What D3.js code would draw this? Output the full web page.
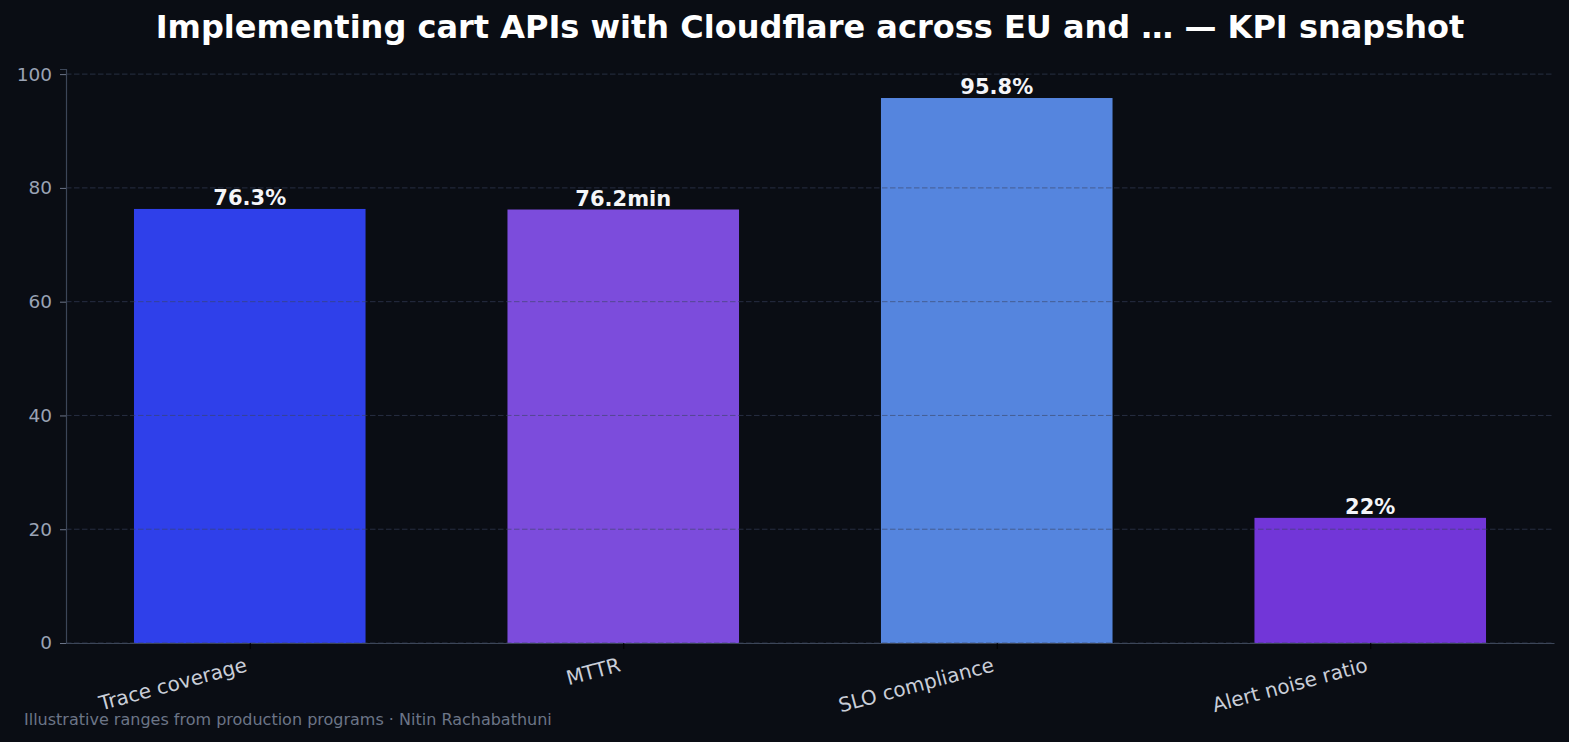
<!DOCTYPE html>
<meta charset="utf-8">
<style>
  body { margin: 0; background: #0a0d14; }
  svg { display: block; font-family: "DejaVu Sans", sans-serif; }
  .title { fill: #ffffff; font-size: 32px; font-weight: bold; text-anchor: middle; }
  .ytick text { fill: #9aa3b5; font-size: 18.5px; }
  .xtick text { fill: #c9ced8; font-size: 20px; }
  .val { fill: #f4f5f8; font-size: 21px; font-weight: bold; text-anchor: middle; }
  .foot { fill: #6c7587; font-size: 16px; }
</style>
<svg width="1569" height="742"></svg>
<script src="https://cdn.jsdelivr.net/npm/d3@7"></script>
<script>

// data
const categories = ["Trace coverage", "MTTR", "SLO compliance", "Alert noise ratio"]
const values = [76.3, 76.2, 95.8, 22]
const valueLabels = ["76.3%", "76.2min", "95.8%", "22%"]
const barColors = ["#2f40ea", "#7c4cdc", "#5585de", "#7236d8"]
const yTicks = [0, 20, 40, 60, 80, 100]

const svg = d3.select("svg")

const margin = {top: 69, right: 15, bottom: 99, left: 66},
      W = 1569, H = 742,
      plotW = W - margin.left - margin.right,
      plotH = H - margin.top - margin.bottom

svg.append("rect").attr("width", W).attr("height", H).attr("fill", "#0a0d14")

const x = d3.scaleLinear()
  .domain([-0.492, categories.length - 1 + 0.492])
  .range([0, plotW])
const barW = 0.62

const y = d3.scaleLinear()
  .domain([0, 100.9])
  .range([plotH, 0])

const chart = svg.append("g")
  .attr("transform", `translate(${margin.left}, ${margin.top})`)

// bars
chart.selectAll(".bar")
  .data(values)
  .enter().append("rect")
  .attr("class", "bar")
  .attr("x", (d, i) => x(i - barW / 2))
  .attr("width", (d, i) => x(i + barW / 2) - x(i - barW / 2))
  .attr("y", d => y(d))
  .attr("height", d => plotH - y(d))
  .attr("fill", (d, i) => barColors[i])

// grid (drawn over bars like the original)
chart.selectAll(".grid")
  .data(yTicks)
  .enter().append("line")
  .attr("x1", 0).attr("x2", plotW)
  .attr("y1", d => y(d)).attr("y2", d => y(d))
  .attr("stroke", "#3a4460")
  .attr("stroke-opacity", 0.6)
  .attr("stroke-dasharray", "5.5,2.5")

// value labels
chart.selectAll(".val")
  .data(values)
  .enter().append("text")
  .attr("class", "val")
  .attr("x", (d, i) => x(i))
  .attr("y", d => y(d) - 4)
  .text((d, i) => valueLabels[i])

// y axis
const yAxis = chart.append("g")
  .call(d3.axisLeft(y).tickValues(yTicks).tickSize(6).tickPadding(8))
  .attr("font-family", null).attr("font-size", null)
yAxis.select(".domain").attr("stroke", "#3c4658").attr("stroke-width", 1.2)
yAxis.selectAll(".tick line").attr("stroke", "#6b7488")
yAxis.selectAll(".tick").attr("class", "tick ytick")
yAxis.selectAll("text").attr("fill", null)

// x axis
const xAxis = chart.append("g")
  .attr("transform", `translate(0, ${plotH})`)
  .call(d3.axisBottom(x).tickValues(d3.range(categories.length))
    .tickFormat(i => categories[i]).tickSize(6).tickSizeOuter(0))
  .attr("font-family", null).attr("font-size", null)
xAxis.select(".domain").attr("stroke", "#3c4658").attr("stroke-width", 1.2)
xAxis.selectAll(".tick line").attr("stroke", "#000000")
xAxis.selectAll(".tick").attr("class", "tick xtick")
xAxis.selectAll("text")
  .attr("fill", null)
  .attr("text-anchor", "end")
  .attr("dy", null)
  .attr("y", 0)
  .attr("transform", "translate(-2, 28) rotate(-15)")

// title
svg.append("text")
  .attr("class", "title")
  .attr("x", 810)
  .attr("y", 38)
  .text("Implementing cart APIs with Cloudflare across EU and … — KPI snapshot")

svg.append("text")
  .attr("class", "foot")
  .attr("x", 24)
  .attr("y", 725)
  .text("Illustrative ranges from production programs · Nitin Rachabathuni")
</script>
